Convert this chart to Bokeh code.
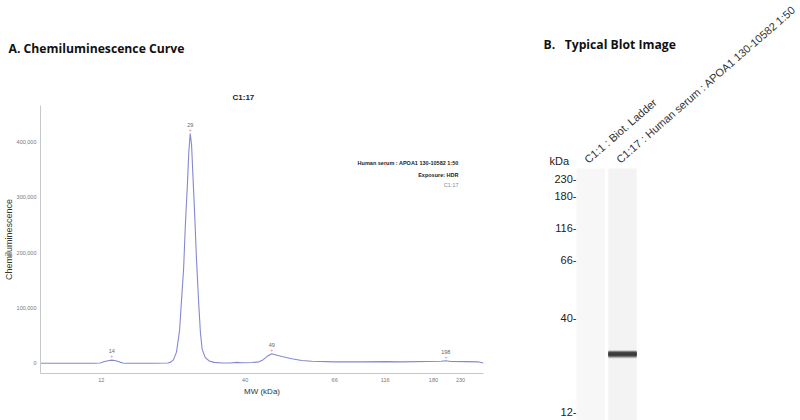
import numpy as np
from bokeh.plotting import figure
from bokeh.models import (ColumnDataSource, FixedTicker, NumeralTickFormatter,
                          Label, Range1d, Title)
from bokeh.layouts import row
from bokeh.embed import file_html
from bokeh.resources import INLINE
from bokeh.core.properties import value

# ---------------- data ----------------
# migration position (relative units, 0-100) and chemiluminescence signal
curve_pos = [0.0, 11.9, 13.5, 14.3, 15.2, 16.1, 17.0, 17.9, 18.6, 19.5, 25.3,
             28.7, 29.4, 30.0, 30.7, 31.4, 31.8, 32.3, 32.7, 33.2, 33.5, 33.8,
             34.1, 34.4, 34.8, 35.2, 35.7, 36.1, 36.5, 37.2, 38.1, 39.2, 41.0,
             42.8, 44.4, 45.5, 47.8, 49.3, 50.2, 51.1, 52.2, 53.4, 54.5, 56.7,
             59.0, 61.2, 66.4, 72.4, 78.0, 81.4, 90.4, 91.5, 92.6, 96.0, 98.7,
             100.0]
curve_signal = [0, 0, 500, 2500, 4500, 5500, 4500, 2000, 500, 0, 0,
                500, 2000, 6000, 20000, 60000, 110000, 170000, 250000, 330000,
                385000, 415000, 395000, 340000, 270000, 190000, 110000, 55000,
                25000, 10000, 4000, 1500, 500, 500, 1500, 800, 1200, 2500, 6000,
                12000, 17000, 14500, 12000, 8000, 5000, 3500, 2500, 2500, 2800,
                2500, 3500, 4500, 3200, 2800, 2500, 500]

peak_labels = ["14", "29", "49", "198"]
peak_pos = [16.1, 33.8, 52.2, 91.5]
peak_signal = [5500, 415000, 17000, 4500]

ladder_kda = [12, 40, 66, 116, 180, 230]
ladder_pos = [13.7, 46.2, 66.4, 77.8, 88.7, 94.8]

y_ticks = [0, 100000, 200000, 300000, 400000]

lane_names = ["C1:1 : Biot. Ladder", "C1:17 : Human serum : APOA1 130-10582 1:50"]
lane_centers = [0.5, 1.68]
lane_top = 98.3
band_lane = 1
band_pos = peak_pos[1]

sample_lines = ["Human serum : APOA1 130-10582 1:50", "Exposure: HDR", "C1:17"]

SANS = "Liberation Sans"
HEAD = "Open Sans"

# ---------------- panel A ----------------
pa = figure(width=538, height=420, x_range=Range1d(0, 100),
            y_range=Range1d(-18600, 465900), output_backend="svg",
            toolbar_location=None, min_border_left=37, min_border_right=55,
            min_border_top=105, min_border_bottom=47, frame_align=False)
pa.outline_line_color = None
pa.grid.visible = False

pa.line(curve_pos, curve_signal, line_color="#8488cf", line_width=1.1)

src = ColumnDataSource(dict(x=peak_pos, y=peak_signal, t=peak_labels,
                            m=["+"] * len(peak_pos)))
pa.text("x", "y", text="t", source=src, y_offset=-7, text_align="center",
        text_baseline="bottom", text_font=value(SANS), text_font_size="5.5px",
        text_color="#666666")
pa.text("x", "y", text="m", source=src, y_offset=-4, text_align="center",
        text_baseline="middle", text_font=value(SANS), text_font_size="5px",
        text_color="#e07f9c")

for ax in (pa.xaxis[0], pa.yaxis[0]):
    ax.axis_line_color = "#c8c8c8"
    ax.major_tick_line_color = None
    ax.minor_tick_line_color = None
    ax.major_tick_out = 0
    ax.major_tick_in = 0
    ax.minor_tick_out = 0
    ax.minor_tick_in = 0
    ax.major_label_text_font = SANS
    ax.major_label_text_font_size = "5.5px"
    ax.major_label_text_color = "#777777"
    ax.axis_label_text_font = SANS
    ax.axis_label_text_font_style = "normal"
    ax.axis_label_text_color = "#333333"

pa.yaxis.ticker = FixedTicker(ticks=y_ticks)
pa.yaxis.formatter = NumeralTickFormatter(format="0,0")
pa.yaxis.major_label_standoff = 4
pa.yaxis.axis_label = "Chemiluminescence"
pa.yaxis.axis_label_text_font_size = "9px"
pa.yaxis.axis_label_standoff = 0

pa.xaxis.ticker = FixedTicker(ticks=ladder_pos)
pa.xaxis.major_label_overrides = {p: str(k) for p, k in zip(ladder_pos, ladder_kda)}
pa.xaxis.major_label_standoff = 4
pa.xaxis.axis_label = "MW (kDa)"
pa.xaxis.axis_label_text_font_size = "8px"
pa.xaxis.axis_label_standoff = 2

pa.add_layout(Title(text="C1:17", align="left", offset=192, text_font=SANS,
                    text_font_size="8px", text_font_style="bold",
                    text_color="#222222", standoff=7), "above")
pa.add_layout(Title(text="A. Chemiluminescence Curve", align="left", offset=-32,
                    text_font=HEAD, text_font_size="12.2px", text_font_style="bold",
                    text_color="#111111", standoff=61), "above")

for i, (txt, yy) in enumerate(zip(sample_lines, [211, 199, 189])):
    pa.add_layout(Label(x=418, y=yy, x_units="screen", y_units="screen",
                        text=txt, text_align="right", text_baseline="middle",
                        text_font=SANS, text_font_size="5.5px",
                        text_font_style="bold" if i < 2 else "normal",
                        text_color="#222222" if i < 2 else "#888888"))

# ---------------- panel B ----------------
y_bottom = 10.75
pb = figure(width=262, height=420, x_range=Range1d(-1.43, 8.27),
            y_range=Range1d(y_bottom, 156.7), output_backend="svg",
            toolbar_location=None, x_axis_location=None, y_axis_location=None,
            min_border_left=0, min_border_right=0, min_border_top=0,
            min_border_bottom=0, frame_align=False)
pb.outline_line_color = None
pb.grid.visible = False

lane_w = 1.05
pb.quad(left=[c - lane_w / 2 for c in lane_centers],
        right=[c + lane_w / 2 for c in lane_centers],
        bottom=y_bottom, top=lane_top, fill_color=["#f7f7f7", "#f3f3f3"],
        line_color=None)

bc = lane_centers[band_lane]
for h, a in [(2.8, 0.25), (2.2, 0.5), (1.5, 0.8), (1.0, 1.0)]:
    pb.quad(left=[bc - lane_w / 2], right=[bc + lane_w / 2],
            bottom=[band_pos - h / 2], top=[band_pos + h / 2],
            fill_color="#3c3c3c", fill_alpha=a, line_color=None)

lad = ColumnDataSource(dict(x=[lane_centers[0] - lane_w / 2] * len(ladder_pos),
                            y=ladder_pos, t=[f"{k}-" for k in ladder_kda]))
pb.text("x", "y", text="t", source=lad, text_align="right", text_baseline="middle",
        text_font=value(SANS), text_font_size="11px", text_color="#222222")

pb.add_layout(Label(x=11, y=260, x_units="screen", y_units="screen", text="kDa",
                    text_align="left", text_baseline="middle", text_font=SANS,
                    text_font_size="11px", text_color="#222222"))
pb.add_layout(Label(x=5, y=376, x_units="screen", y_units="screen",
                    text="B.\u00a0\u00a0\u00a0Typical Blot Image", text_align="left",
                    text_baseline="middle", text_font=HEAD,
                    text_font_size="12.2px", text_font_style="bold",
                    text_color="#111111"))
for c, name in zip(lane_centers, lane_names):
    pb.add_layout(Label(x=c - 0.03, y=255, x_units="data", y_units="screen",
                        text=name, angle=np.deg2rad(41), text_align="left",
                        text_baseline="bottom", text_font=SANS,
                        text_font_size="11px", text_color="#333333"))

layout = row(pa, pb)
open("out.html", "w").write(file_html(layout, INLINE))
